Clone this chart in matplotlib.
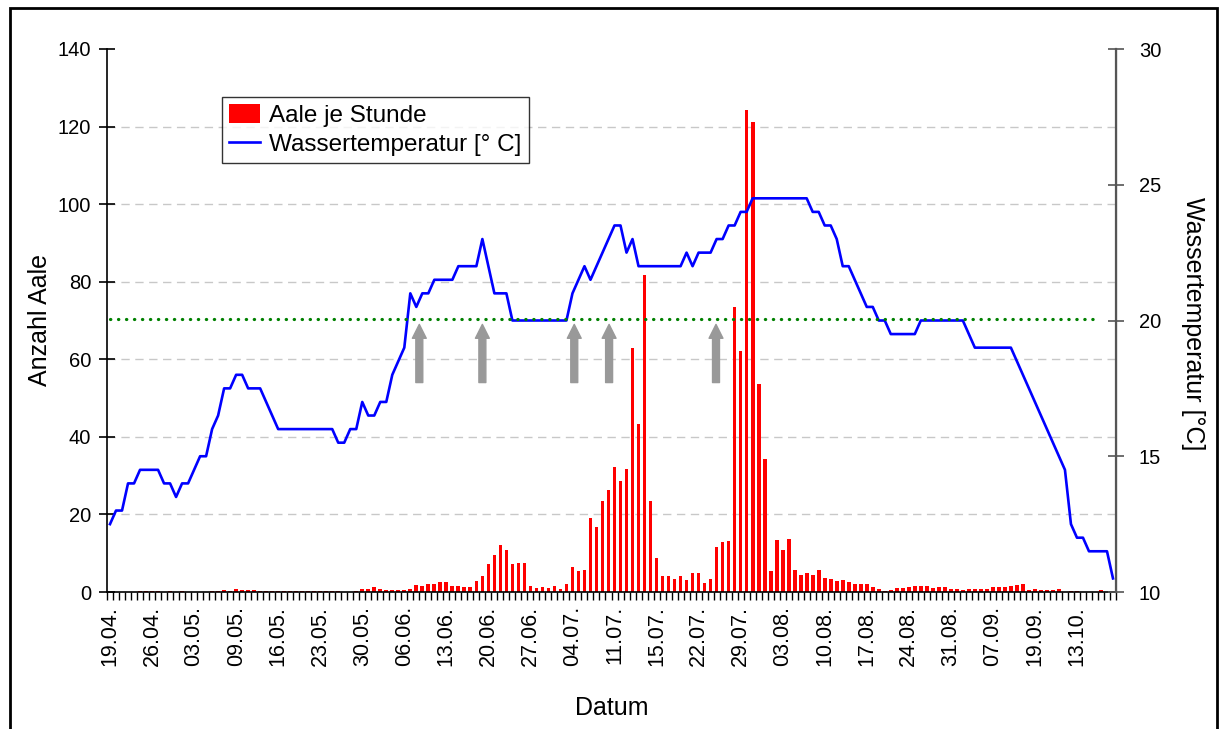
import matplotlib
matplotlib.use("Agg")
import matplotlib.pyplot as plt
from matplotlib.lines import Line2D
from matplotlib.patches import Patch, Rectangle
import numpy as np

plt.rcParams['font.family'] = ['Liberation Sans', 'DejaVu Sans']

# x-axis labels, one every 7th day-category
date_labels = ["19.04.", "26.04.", "03.05.", "09.05.", "16.05.", "23.05.",
               "30.05.", "06.06.", "13.06.", "20.06.", "27.06.", "04.07.",
               "11.07.", "15.07.", "22.07.", "29.07.", "03.08.", "10.08.",
               "17.08.", "24.08.", "31.08.", "07.09.", "19.09.", "13.10."]
label_step = 7

# eels per hour (left axis)
eels_per_hour = [
    0, 0, 0, 0, 0, 0.2, 0.2, 0.2, 0.2, 0, 0.2, 0, 0.2, 0, 0, 0, 0, 0.3, 0.3, 0.6,
    0.3, 0.9, 0.5, 0.6, 0.5, 0.2, 0.2, 0.2, 0.3, 0.2, 0.2, 0.3, 0.3, 0.2, 0.3, 0.3, 0.3, 0.3, 0.3, 0,
    0, 0.2, 0.8, 0.7, 1.2, 0.7, 0.5, 0.5, 0.5, 0.5, 0.9, 1.9, 1.5, 2.0, 2.0, 2.5, 2.6, 1.5, 1.5, 1.3,
    1.3, 2.8, 4.0, 7.2, 9.5, 12.2, 10.8, 7.2, 7.4, 7.4, 1.5, 1.0, 1.3, 1.0, 1.6, 0.9, 2.0, 6.4, 5.4, 5.6,
    19.0, 16.8, 23.5, 26.2, 32.1, 28.7, 31.6, 62.8, 43.4, 81.8, 23.5, 8.8, 4.1, 4.0, 3.3, 4.1, 3.2, 4.8, 5.0, 2.3,
    3.3, 11.5, 12.8, 13.2, 73.4, 62.1, 124.3, 121.2, 53.5, 34.4, 5.3, 13.5, 10.7, 13.7, 5.7, 4.3, 4.9, 4.5, 5.8, 3.7,
    3.4, 2.8, 3.1, 2.6, 2.1, 2.1, 2.1, 1.2, 0.9, 0.3, 0.5, 1.0, 1.0, 1.4, 1.5, 1.5, 1.5, 1.1, 1.2, 1.2,
    0.7, 0.7, 0.5, 0.7, 0.7, 0.7, 0.7, 1.2, 1.2, 1.4, 1.5, 1.9, 2.1, 0.5, 0.9, 0.6, 0.6, 0.5, 0.7, 0.1,
    0.2, 0.3, 0.1, 0.1, 0.1, 0.4, 0.1, 0.1,
]

# water temperature in deg C (right axis)
water_temp = [
    12.5, 13, 13, 14, 14, 14.5, 14.5, 14.5, 14.5, 14, 14, 13.5, 14, 14, 14.5, 15, 15, 16, 16.5, 17.5,
    17.5, 18, 18, 17.5, 17.5, 17.5, 17, 16.5, 16, 16, 16, 16, 16, 16, 16, 16, 16, 16, 15.5, 15.5,
    16, 16, 17, 16.5, 16.5, 17, 17, 18, 18.5, 19, 21, 20.5, 21, 21, 21.5, 21.5, 21.5, 21.5, 22, 22,
    22, 22, 23, 22, 21, 21, 21, 20, 20, 20, 20, 20, 20, 20, 20, 20, 20, 21, 21.5, 22,
    21.5, 22, 22.5, 23, 23.5, 23.5, 22.5, 23, 22, 22, 22, 22, 22, 22, 22, 22, 22.5, 22, 22.5, 22.5,
    22.5, 23, 23, 23.5, 23.5, 24, 24, 24.5, 24.5, 24.5, 24.5, 24.5, 24.5, 24.5, 24.5, 24.5, 24.5, 24, 24, 23.5,
    23.5, 23, 22, 22, 21.5, 21, 20.5, 20.5, 20, 20, 19.5, 19.5, 19.5, 19.5, 19.5, 20, 20, 20, 20, 20,
    20, 20, 20, 19.5, 19, 19, 19, 19, 19, 19, 19, 18.5, 18, 17.5, 17, 16.5, 16, 15.5, 15, 14.5,
    12.5, 12, 12, 11.5, 11.5, 11.5, 11.5, 10.5,
]

# green dotted reference temperature and its extent (category index)
ref_temp = 20.05
ref_end = 164.3

# grey arrow markers (category position, from / to in "Anzahl Aale" units)
arrow_pos = [51.5, 62.0, 77.3, 83.1, 100.9]
arrow_from = 54
arrow_to = 69

n = len(eels_per_hour)
x = np.arange(n)

W, H = 1222, 729
fig = plt.figure(figsize=(W / 100, H / 100), dpi=100)
L, R, T, B = 107, 1116, 49, 592
ax = fig.add_axes([L / W, 1 - B / H, (R - L) / W, (B - T) / H])
ax2 = ax.twinx()

# grid
for g in range(20, 140, 20):
    ax.axhline(g, color='#c8c8c8', lw=1.0, ls=(0, (6, 4)), zorder=0)

ax.bar(x, eels_per_hour, width=0.62, color='#ff0000', zorder=2)
ax2.plot(x, water_temp, color='#0000ff', lw=1.9, zorder=3)
ax2.plot([0, ref_end], [ref_temp, ref_temp], color='#008000', lw=2.3,
         ls=(0, (0.1, 2.4)), dash_capstyle='round', zorder=4)

for p in arrow_pos:
    ax.annotate('', xy=(p, arrow_to), xytext=(p, arrow_from),
                arrowprops=dict(arrowstyle='simple,head_length=1.0,head_width=1.0,tail_width=0.5',
                                mutation_scale=10, color='#999999', shrinkA=0, shrinkB=0),
                zorder=5)

ax.set_xlim(-0.5, n - 0.5)
ax.set_ylim(0, 140)
ax2.set_ylim(10, 30)
ax.set_yticks(range(0, 141, 20))
ax2.set_yticks(range(10, 31, 5))

ax.set_xticks(np.arange(0, n, label_step)[:len(date_labels)])
ax.set_xticklabels(date_labels, rotation=90, fontsize=15.5)
ax.set_xticks(np.arange(-0.5, n, 1), minor=True)
ax.tick_params(axis='x', which='major', length=0, pad=10)
ax.tick_params(axis='x', which='minor', length=6, width=1, direction='out', color='black')
ax.tick_params(axis='y', direction='inout', length=11, width=1.2, labelsize=14.5, pad=6)
ax2.tick_params(axis='y', direction='inout', length=11, width=1.2, labelsize=14.5, pad=11,
                color='#555555')

for a in (ax, ax2):
    a.spines['top'].set_visible(False)
ax.spines['left'].set_linewidth(1.2)
ax.spines['bottom'].set_linewidth(1.2)
ax2.spines['right'].set_color('#555555')
ax2.spines['right'].set_linewidth(1.6)
ax2.spines['left'].set_visible(False)
ax2.spines['bottom'].set_visible(False)

ax.set_ylabel("Anzahl Aale", fontsize=18)
ax.yaxis.set_label_coords(-0.055, 0.5)
ax.set_xlabel("Datum", fontsize=18)
ax.xaxis.set_label_coords(0.5, -0.192)
ax2.set_ylabel("Wassertemperatur [°C]", fontsize=18, rotation=270, va='center')
ax2.yaxis.set_label_coords(1.076, 0.495)

handles = [Patch(facecolor='#ff0000', edgecolor='none'),
           Line2D([0], [0], color='#0000ff', lw=1.9)]
leg = fig.legend(handles, ["Aale je Stunde", "Wassertemperatur [° C]"],
                 loc='upper left', bbox_to_anchor=(222 / W, 1 - 97 / H),
                 fontsize=17.5, frameon=True, fancybox=False, handlelength=1.25,
                 handleheight=0.8, handletextpad=0.4, borderpad=0.3, labelspacing=0.25,
                 borderaxespad=0)
leg.get_frame().set_edgecolor('black')
leg.get_frame().set_linewidth(1.0)

# outer frame of the chart
fig.patches.append(Rectangle((10 / W, -0.05), (1217 - 10) / W, 1.05 - 8 / H,
                             transform=fig.transFigure, fill=False, ec='black', lw=2,
                             clip_on=False))

fig.savefig("out.png", dpi=100)
